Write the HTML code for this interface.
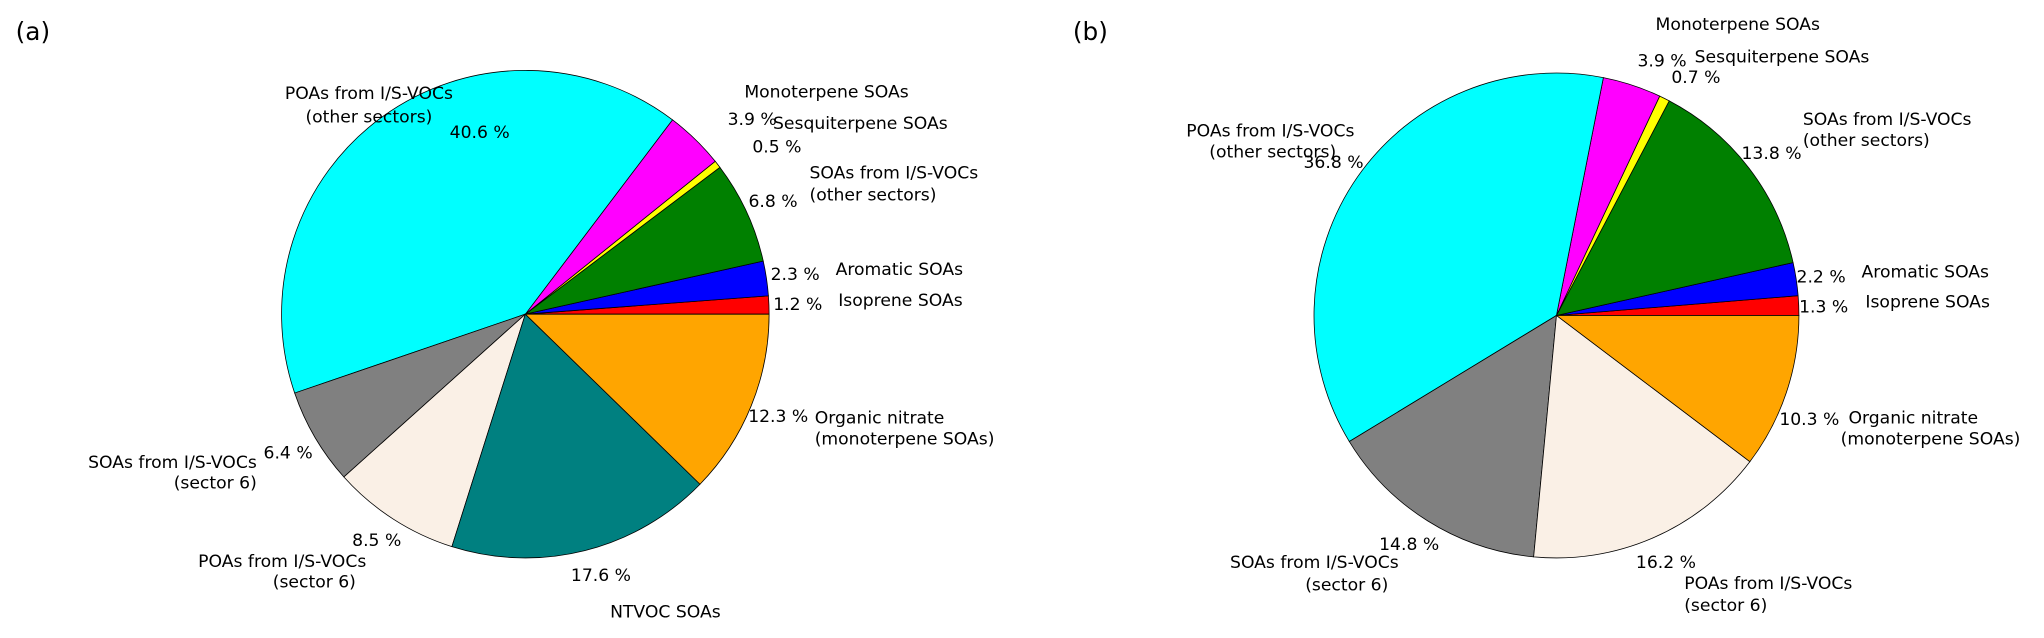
<!DOCTYPE html>
<html><head><meta charset="utf-8"><style>
html,body{margin:0;padding:0;background:#fff;width:2044px;height:638px;overflow:hidden}
svg text{font-family:"DejaVu Sans","Liberation Sans",sans-serif;font-size:13.2px;fill:#000}
</style></head><body>
<svg id="chart" width="2044" height="638" viewBox="0 0 1568 489.4" xmlns="http://www.w3.org/2000/svg">
<g id="pieA"></g>
<g id="pieB"></g>
<g id="labels"></g>
</svg>
<script>
const categories = ["Isoprene SOAs","Aromatic SOAs","SOAs from I/S-VOCs (other sectors)","Sesquiterpene SOAs","Monoterpene SOAs","POAs from I/S-VOCs (other sectors)","SOAs from I/S-VOCs (sector 6)","POAs from I/S-VOCs (sector 6)","NTVOC SOAs","Organic nitrate (monoterpene SOAs)"];
const colors = ["#ff0000","#0000ff","#008000","#ffff00","#ff00ff","#00ffff","#808080","#faf0e6","#008080","#ffa500"];
const valuesA = [1.2,2.3,6.8,0.5,3.9,40.6,6.4,8.5,17.6,12.3];
const valuesB = [1.3,2.2,13.8,0.7,3.9,36.8,14.8,16.2,0,10.3];
const NS="http://www.w3.org/2000/svg";
function drawPie(g,vals,cx,cy,r,tag){
  const total=vals.reduce((a,b)=>a+b,0);
  let a0=0;
  vals.forEach((v,i)=>{
    if(v<=0) return;
    const a1=a0+v/total*2*Math.PI;
    const x0=cx+r*Math.cos(a0), y0=cy-r*Math.sin(a0);
    const x1=cx+r*Math.cos(a1), y1=cy-r*Math.sin(a1);
    const large=(a1-a0)>Math.PI?1:0;
    const p=document.createElementNS(NS,"path");
    p.setAttribute("d",`M${cx},${cy} L${x0},${y0} A${r},${r} 0 ${large} 0 ${x1},${y1} Z`);
    p.setAttribute("fill",colors[i]);
    p.setAttribute("stroke","#000");
    p.setAttribute("stroke-width","0.6");
    
    
    g.appendChild(p);
    a0=a1;
  });
}
drawPie(document.getElementById("pieA"),valuesA,403,241,187,"a");
drawPie(document.getElementById("pieB"),valuesB,1194,242,186,"b");
// labels: [text, x, y, anchor, size]
const labelsT=[
["(a)",12,24,"start",19],["(b)",823,24,"start",19],
["POAs from I/S-VOCs",283,72,"middle"],["(other sectors)",283,90,"middle"],["40.6 %",368,102,"middle"],
["Monoterpene SOAs",571,71,"start"],["3.9 %",577,92,"middle"],
["Sesquiterpene SOAs",593,95,"start"],["0.5 %",596,113,"middle"],
["SOAs from I/S-VOCs",621,133,"start"],["(other sectors)",621,150,"start"],["6.8 %",593,155,"middle"],
["Aromatic SOAs",641,207,"start"],["2.3 %",610,211,"middle"],
["Isoprene SOAs",643,231,"start"],["1.2 %",612,234,"middle"],
["12.3 %",597,320,"middle"],["Organic nitrate",625,321,"start"],["(monoterpene SOAs)",625,337,"start"],
["17.6 %",461,442,"middle"],["NTVOC SOAs",468,470,"start"],
["8.5 %",289,415,"middle"],["POAs from I/S-VOCs",281,431,"end"],["(sector 6)",273,447,"end"],
["SOAs from I/S-VOCs",197,355,"end"],["(sector 6)",197,371,"end"],["6.4 %",221,348,"middle"],
["Monoterpene SOAs",1270,19,"start"],["3.9 %",1275,47,"middle"],
["Sesquiterpene SOAs",1300,44,"start"],["0.7 %",1301,60,"middle"],
["SOAs from I/S-VOCs",1383,92,"start"],["(other sectors)",1383,108,"start"],["13.8 %",1359,118,"middle"],
["POAs from I/S-VOCs",1039,101,"end"],["(other sectors)",1025,117,"end"],["36.8 %",1023,125,"middle"],
["2.2 %",1397,213,"middle"],["Aromatic SOAs",1428,209,"start"],
["1.3 %",1399,236,"middle"],["Isoprene SOAs",1431,232,"start"],
["10.3 %",1388,322,"middle"],["Organic nitrate",1418,321,"start"],["(monoterpene SOAs)",1412,337,"start"],
["14.8 %",1081,418,"middle"],["SOAs from I/S-VOCs",1073,432,"end"],["(sector 6)",1065,449,"end"],
["16.2 %",1278,432,"middle"],["POAs from I/S-VOCs",1292,448,"start"],["(sector 6)",1292,465,"start"]
];
const lg=document.getElementById("labels");
labelsT.forEach((l,i)=>{
  const t=document.createElementNS(NS,"text");
  t.textContent=l[0];
  t.setAttribute("x",l[1]);t.setAttribute("y",l[2]);
  t.setAttribute("text-anchor",l[3]);
  t.setAttribute("dominant-baseline","central");
  if(l[4]) t.style.fontSize=l[4]+"px";
  
  
  lg.appendChild(t);
});
</script>
</body></html>
